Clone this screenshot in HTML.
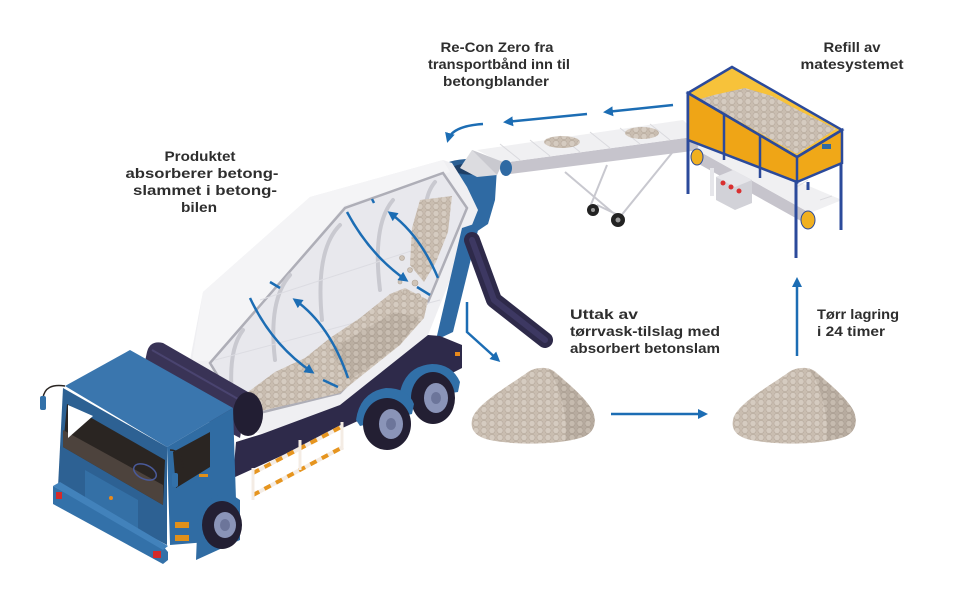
<!DOCTYPE html>
<html><head><meta charset="utf-8"><style>
html,body{margin:0;padding:0;background:#fff;}
svg{display:block;}
text{font-family:"Liberation Sans",sans-serif;font-weight:bold;font-size:14px;fill:#2e2e2e;}
</style></head><body>
<svg width="960" height="612" viewBox="0 0 960 612" xmlns="http://www.w3.org/2000/svg">
<defs>
<pattern id="agg" width="8" height="7" patternUnits="userSpaceOnUse">
<rect width="8" height="7" fill="#c9bdb0"/>
<circle cx="4" cy="3.5" r="3.1" fill="#d5cbc0" stroke="#b6a99c" stroke-width="0.6"/>
</pattern>
<pattern id="aggd" width="8" height="7" patternUnits="userSpaceOnUse">
<rect width="8" height="7" fill="#b3a79b"/>
<circle cx="4" cy="3.5" r="3.1" fill="#c2b7ab" stroke="#a3978b" stroke-width="0.6"/>
</pattern>
<marker id="ah" viewBox="0 0 10 10" refX="7" refY="5" markerWidth="4" markerHeight="4" orient="auto"><path d="M0,0 L10,5 L0,10 z" fill="#1c6db4"/></marker>
</defs>

<!-- hopper cup (behind drum rim) -->
<polygon points="443,163 497,168 495,200 488,224 470,236 455,232" fill="#2f6aa3"/>
<ellipse cx="470" cy="167" rx="27" ry="8" fill="#2a5f94"/>
<ellipse cx="472" cy="169" rx="21" ry="5.5" fill="#1e3f66"/>

<!-- ===== DRUM ===== -->
<polygon points="190,360 203,292 310,197 443,160 452,163 467,187 478,210 440,305 428,335 340,405 262,434 236,427" fill="#efeff2"/>
<polygon points="203,292 310,197 443,160 450,172 345,205 212,360 192,362" fill="#f4f4f6"/>
<polygon points="210,363 345,208 443,173 467,208 428,302 340,393 243,417" fill="#e8e8ed" stroke="#aeaeb7" stroke-width="2.5"/>
<!-- fins -->
<g fill="none" stroke="#c9c9d0" stroke-width="4" stroke-linecap="round">
<path d="M243,330 Q228,350 232,395"/>
<path d="M290,275 Q268,300 275,360"/>
<path d="M340,225 Q315,250 322,320"/>
<path d="M393,200 Q372,225 380,290"/>
<path d="M435,182 Q420,200 428,240"/>
</g>
<g fill="none" stroke="#dcdce2" stroke-width="1">
<path d="M215,360 L440,300"/><path d="M260,300 L445,240"/>
</g>
<!-- aggregate in drum -->
<polygon points="243,415 248,392 275,372 305,358 330,338 360,318 390,294 405,288 428,300 424,318 400,345 340,393" fill="url(#agg)"/>
<polygon points="330,350 360,332 395,312 420,318 400,345 350,380" fill="url(#aggd)" opacity="0.7"/>
<polygon points="420,200 452,196 448,232 436,262 424,282 410,265 412,228" fill="url(#agg)"/>
<g fill="#cfc4b8" stroke="#b0a396" stroke-width="0.6">
<circle cx="402" cy="258" r="2.5"/><circle cx="410" cy="270" r="2.5"/><circle cx="400" cy="282" r="2"/><circle cx="415" cy="283" r="3"/><circle cx="405" cy="292" r="2"/><circle cx="418" cy="296" r="2.5"/>
</g>
<!-- drum arrows -->
<g fill="none" stroke="#1c6db4" stroke-width="2.5">
<path d="M250,298 Q272,345 312,372" marker-end="url(#ah)"/>
<path d="M348,378 Q330,325 295,300" marker-end="url(#ah)"/>
<path d="M347,212 Q370,255 406,280" marker-end="url(#ah)"/>
<path d="M438,278 Q420,235 390,213" marker-end="url(#ah)"/>
<path d="M270,282 L280,288"/><path d="M323,380 L338,387"/><path d="M372,199 L374,203"/><path d="M417,287 L430,295"/>
</g>

<!-- column -->
<polygon points="462,228 480,222 453,332 436,340" fill="#2f6aa3"/>
<!-- chute -->
<path d="M472,240 L494,300 L545,340" fill="none" stroke="#2e2a4a" stroke-width="16" stroke-linecap="round" stroke-linejoin="round"/>
<path d="M472,240 L494,300 L545,340" fill="none" stroke="#3d3862" stroke-width="6" stroke-linecap="round" stroke-linejoin="round"/>

<!-- ===== CHASSIS ===== -->
<polygon points="236,442 262,434 340,405 428,335 440,336 462,345 462,368 360,420 233,478" fill="#2e2a4a"/>
<rect x="455" y="352" width="5" height="4" fill="#e8891b"/>
<!-- rear wheels + fenders -->
<path d="M400,392 Q406,366 432,364 Q452,364 460,382 L458,392 L404,400 Z" fill="#3170a8"/>
<ellipse cx="433" cy="398" rx="22" ry="26" fill="#231f33"/>
<ellipse cx="436" cy="398" rx="12" ry="15" fill="#8a94b8"/>
<ellipse cx="436" cy="398" rx="5" ry="6" fill="#6c759a"/>
<path d="M356,420 Q360,392 386,388 Q408,388 414,404 L412,414 L360,426 Z" fill="#3170a8"/>
<ellipse cx="387" cy="424" rx="24" ry="26" fill="#231f33"/>
<ellipse cx="391" cy="424" rx="12" ry="15" fill="#8a94b8"/>
<ellipse cx="391" cy="424" rx="5" ry="6" fill="#6c759a"/>
<!-- railing -->
<g stroke-width="4" fill="none">
<path d="M253,473 L343,426" stroke="#f4ece4"/>
<path d="M253,495 L343,447" stroke="#f4ece4"/>
<path d="M253,473 L343,426" stroke="#e6951f" stroke-dasharray="7,6"/>
<path d="M253,495 L343,447" stroke="#e6951f" stroke-dasharray="7,6"/>
<path d="M253,468 L253,500 M300,440 L300,470 M342,422 L342,450" stroke="#f4ece4" stroke-width="3"/>
</g>

<!-- cylinder -->
<path d="M147,352 Q150,340 163,343 L248,392 L240,438 L140,385 Z" fill="#393356"/>
<path d="M152,350 L238,399" stroke="#4a4470" stroke-width="2"/>
<ellipse cx="248" cy="414" rx="15" ry="22" fill="#221e33"/>

<!-- ===== CAB ===== -->
<polygon points="65,386 130,350 233,408 167,447" fill="#3a76ae"/>
<polygon points="63,388 167,447 167,545 58,487" fill="#2d6193"/>
<polygon points="167,447 233,408 236,500 232,540 170,545" fill="#306ca3"/>
<polygon points="67,404 165,460 163,505 63,447" fill="#2a2522"/>
<polygon points="63,430 163,485 163,505 63,447" fill="#4d433d"/>
<polygon points="68,405 93,416 68,438" fill="#ffffff"/>
<ellipse cx="145" cy="472" rx="12" ry="7" fill="none" stroke="#4a5a9a" stroke-width="1.5" transform="rotate(25 145 472)"/>
<polygon points="173,452 210,432 210,467 176,488" fill="#2a2522"/>
<polygon points="85,470 138,500 138,540 85,510" fill="#3470a6"/>
<circle cx="111" cy="498" r="2" fill="#e8891b"/>
<polygon points="53,486 163,546 168,552 168,560 163,564 53,504" fill="#3371a9"/>
<polygon points="53,486 60,482 168,546 163,550" fill="#4282bb"/>
<rect x="56" y="492" width="6" height="7" fill="#d42a2a"/>
<rect x="153" y="551" width="8" height="7" fill="#d42a2a"/>
<rect x="175" y="522" width="14" height="6" fill="#e0901a"/>
<rect x="175" y="535" width="14" height="6" fill="#e0901a"/>
<rect x="199" y="474" width="9" height="3" fill="#e0901a"/>
<!-- mirrors -->
<path d="M43,398 Q45,383 65,386" fill="none" stroke="#2a2522" stroke-width="1.5"/>
<rect x="40" y="396" width="6" height="14" rx="2" fill="#3371a9"/>
<path d="M170,450 Q182,450 183,468" fill="none" stroke="#2a2522" stroke-width="1.5"/>
<rect x="172" y="473" width="6" height="14" rx="2" fill="#3371a9"/>
<!-- front wheel -->
<path d="M196,560 L198,510 Q220,485 240,500 L240,540 Z" fill="#306ca3"/>
<ellipse cx="222" cy="525" rx="20" ry="24" fill="#231f33"/>
<ellipse cx="225" cy="525" rx="11" ry="13" fill="#8a94b8"/>
<ellipse cx="225" cy="525" rx="5" ry="6" fill="#6c759a"/>

<!-- ===== CONVEYOR ===== -->
<g stroke="#c8c8cf" stroke-width="2" fill="none">
<path d="M565,172 L612,212"/><path d="M607,165 L590,207"/><path d="M680,143 L620,217"/><path d="M597,205 L618,215"/>
</g>
<circle cx="593" cy="210" r="6" fill="#222"/><circle cx="593" cy="210" r="2" fill="#999"/>
<circle cx="618" cy="220" r="7" fill="#222"/><circle cx="618" cy="220" r="2.5" fill="#999"/>
<polygon points="502,163 700,136 700,150 502,175" fill="#c6c4cc"/>
<polygon points="477,150 683,120 700,136 502,163" fill="#f0f0f2"/>
<g stroke="#dadade" stroke-width="1">
<path d="M500,144 L520,160 M530,140 L550,156 M560,136 L580,152 M590,132 L610,148 M620,128 L640,144 M650,124 L670,140"/>
</g>
<polygon points="460,168 472,150 503,162 497,175 477,177" fill="#dcdce0"/>
<polygon points="472,150 503,162 497,175" fill="#c9c9cf"/>
<ellipse cx="506" cy="168" rx="6" ry="8" fill="#2f6aa3"/>
<ellipse cx="562" cy="142" rx="18" ry="6" fill="url(#agg)"/>
<ellipse cx="642" cy="133" rx="17" ry="6" fill="url(#agg)"/>

<!-- lower conveyor -->
<polygon points="697,150 810,213 810,226 697,163" fill="#c6c4cc"/>
<polygon points="700,140 842,200 810,213 697,150" fill="#f0f0f2"/>
<g stroke="#dcdce0" stroke-width="1">
<path d="M720,148 L728,143 M745,160 L755,154 M770,174 L782,167 M795,188 L808,180 M820,200 L832,196"/>
</g>
<ellipse cx="697" cy="157" rx="6" ry="8" fill="#f0b020" stroke="#2b4a9b" stroke-width="1"/>
<ellipse cx="808" cy="220" rx="7" ry="9" fill="#f0b020" stroke="#2b4a9b" stroke-width="1"/>
<!-- control box -->
<polygon points="716,177 733,170 752,180 752,203 735,210 716,200" fill="#d2d2d8"/>
<polygon points="716,177 733,170 752,180 735,187" fill="#e6e6ea"/>
<circle cx="723" cy="183" r="2.5" fill="#d93030"/><circle cx="731" cy="187" r="2.5" fill="#d93030"/><circle cx="739" cy="191" r="2.5" fill="#d93030"/>
<rect x="710" y="168" width="4" height="28" fill="#e6e6ea"/>

<!-- ===== FEEDER ===== -->
<g stroke="#2b4a9b" stroke-width="3">
<path d="M688,93 L688,194"/><path d="M796,157 L796,258"/><path d="M841,130 L841,230"/><path d="M808,182 L808,190"/>
</g>
<polygon points="688,93 732,67 842,130 797,157" fill="#f7c23a"/>
<polygon points="700,99 714,95 745,88 772,96 800,111 836,129 797,154" fill="url(#agg)"/>
<polygon points="688,93 797,157 797,182 688,140" fill="#efa516"/>
<polygon points="797,157 842,130 842,163 797,182" fill="#f0a818"/>
<g stroke="#2b4a9b" stroke-width="2.5" fill="none">
<polygon points="688,93 732,67 842,130 797,157"/>
<path d="M688,93 L797,157 L797,182 L688,140 Z"/>
<path d="M797,157 L842,130 L842,163 L797,182"/>
<path d="M724,114 L724,160 M760,135 L760,178"/>
</g>
<rect x="822" y="144" width="9" height="5" fill="#2f6aa3"/>

<!-- ===== PILES ===== -->
<g>
<path d="M472,420 C474,405 510,385 528,372 C535,367 548,366 555,372 C570,385 588,400 593,412 C598,425 592,435 580,438 C560,444 520,446 490,440 C476,437 470,430 472,420 Z" fill="url(#agg)"/>
<path d="M548,368 C565,380 588,400 593,412 C598,425 592,435 580,438 L565,441 C568,420 562,390 548,368 Z" fill="url(#aggd)" opacity="0.8"/>
</g>
<g transform="translate(261,0)">
<path d="M472,420 C474,405 510,385 528,372 C535,367 548,366 555,372 C570,385 588,400 593,412 C598,425 592,435 580,438 C560,444 520,446 490,440 C476,437 470,430 472,420 Z" fill="url(#agg)"/>
<path d="M548,368 C565,380 588,400 593,412 C598,425 592,435 580,438 L565,441 C568,420 562,390 548,368 Z" fill="url(#aggd)" opacity="0.8"/>
</g>

<!-- ===== FLOW ARROWS ===== -->
<g fill="none" stroke="#1c6db4" stroke-width="2.5">
<path d="M611,414 L705,414" marker-end="url(#ah)"/>
<path d="M797,356 L797,280" marker-end="url(#ah)"/>
<path d="M673,105 L606,112" marker-end="url(#ah)"/>
<path d="M587,114 L506,122" marker-end="url(#ah)"/>
<path d="M483,124 Q452,126 448,140" marker-end="url(#ah)"/>
<path d="M467,302 L467,332 L498,360" marker-end="url(#ah)"/>
</g>

<!-- ===== TEXT ===== -->
<g text-anchor="middle">
<text x="497" y="52" textLength="113" lengthAdjust="spacingAndGlyphs">Re-Con Zero fra</text>
<text x="499" y="69" textLength="142" lengthAdjust="spacingAndGlyphs">transportbånd inn til</text>
<text x="496" y="86" textLength="106" lengthAdjust="spacingAndGlyphs">betongblander</text>
<text x="852" y="52" textLength="57" lengthAdjust="spacingAndGlyphs">Refill av</text>
<text x="852" y="69" textLength="103" lengthAdjust="spacingAndGlyphs">matesystemet</text>
<text x="200" y="161" textLength="71" lengthAdjust="spacingAndGlyphs">Produktet</text>
<text x="202" y="178" textLength="153" lengthAdjust="spacingAndGlyphs">absorberer betong-</text>
<text x="205" y="195" textLength="144" lengthAdjust="spacingAndGlyphs">slammet i betong-</text>
<text x="199" y="212" textLength="36" lengthAdjust="spacingAndGlyphs">bilen</text>
</g>
<text x="570" y="319" textLength="68" lengthAdjust="spacingAndGlyphs">Uttak av</text>
<text x="570" y="336" textLength="150" lengthAdjust="spacingAndGlyphs">tørrvask-tilslag med</text>
<text x="570" y="353" textLength="150" lengthAdjust="spacingAndGlyphs">absorbert betonslam</text>
<text x="817" y="319" textLength="82" lengthAdjust="spacingAndGlyphs">Tørr lagring</text>
<text x="817" y="336" textLength="68" lengthAdjust="spacingAndGlyphs">i 24 timer</text>
</svg>
</body></html>
